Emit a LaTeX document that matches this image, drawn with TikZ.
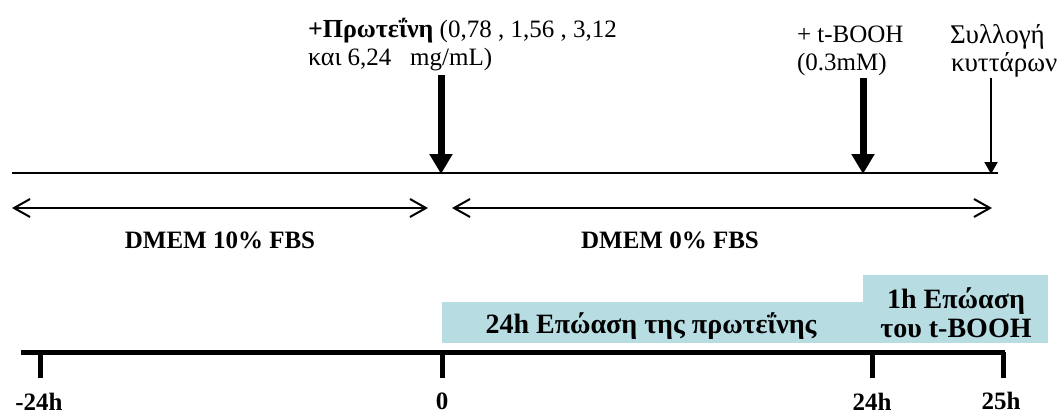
\documentclass[tikz,border=0pt]{standalone}
\usepackage{fontspec}
\setmainfont{Liberation Serif}
\usetikzlibrary{arrows.meta}
\definecolor{boxblue}{RGB}{183,221,227}
\begin{document}
\begin{tikzpicture}[x=1pt,y=-1pt,
  font=\fontsize{25}{28}\selectfont, inner sep=0pt, outer sep=0pt,
  lbl/.style={anchor=base west, align=left},
  grk/.style={anchor=base west, font=\fontsize{27}{28}\selectfont},
  blbl/.style={anchor=base, font=\fontsize{25}{28}\selectfont\bfseries},
  boxtxt/.style={anchor=base, font=\fontsize{28}{29}\selectfont\bfseries},
  bigarrow/.style={line width=7pt, -{Triangle[width=22pt,length=20pt]}},
  thinarrow/.style={line width=2pt, -{Triangle[width=13pt,length=12pt]}},
  dblarrow/.style={line width=2pt, {Straight Barb[length=16pt,width=18pt,line width=2pt]}-{Straight Barb[length=16pt,width=18pt,line width=2pt]}},
  incub/.style={fill=boxblue, draw=none, anchor=north west},
  tick/.style={line width=5pt}
]
\useasboundingbox (0,0) rectangle (1062,416);

% top labels
\node[lbl] (prot1) at (308,37) {{\fontsize{26}{28}\selectfont\bfseries +Πρωτεΐνη} (0,78 , 1,56 , 3,12};
\node[lbl] (prot2) at (308,65) {{\fontsize{26}{28}\selectfont και} 6,24 \ \ mg/mL)};
\node[lbl] (boo1) at (797,42) {+ t-BOOH};
\node[lbl] (boo2) at (797,70) {(0.3mM)};
\node[grk] (col1) at (950,43) {Συλλογή};
\node[grk] (col2) at (951,71) {κυττάρων};

% top timeline
\coordinate (tlA) at (12,173);
\coordinate (tlB) at (998,173);
\draw[line width=2pt] (tlA) -- (tlB);

\coordinate (a0s) at (441,75);
\coordinate (a0e) at (441,174);
\coordinate (a24s) at (863,78);
\coordinate (a24e) at (863,174);
\coordinate (a25s) at (991,78);
\coordinate (a25e) at (991,174);
\draw[bigarrow] (a0s) -- (a0e);
\draw[bigarrow] (a24s) -- (a24e);
\draw[thinarrow] (a25s) -- (a25e);

% medium periods
\coordinate (d1a) at (12,208);
\coordinate (d1b) at (428,208);
\coordinate (d2a) at (452,208);
\coordinate (d2b) at (992,208);
\draw[dblarrow] (d1a) -- (d1b);
\draw[dblarrow] (d2a) -- (d2b);
\node[blbl] (dm10) at (220,248) {DMEM 10\% FBS};
\node[blbl] (dm0) at (670,248) {DMEM 0\% FBS};

% incubation boxes
\node[incub, minimum width=421pt, minimum height=41pt] (inc1) at (442,302) {};
\node[incub, minimum width=185pt, minimum height=68pt] (inc2) at (863,275) {};
\node[boxtxt] (inc1t) at (651,333) {24h Επώαση της πρωτεΐνης};
\node[boxtxt] (inc2a) at (956,308) {1h Επώαση};
\node[boxtxt] (inc2b) at (956,337) {του t-BOOH};

% bottom timeline
\coordinate (bl) at (21,352);
\coordinate (br) at (1005,352);
\draw[line width=5pt] (bl) -- (br);
\foreach \n/\x in {m24/40, z/442, p24/872, p25/1003}{
  \coordinate (\n top) at (\x,352);
  \coordinate (\n bot) at (\x,378);
  \draw[tick] (\n top) -- (\n bot);
}
\node[blbl] (lm24) at (39,410) {-24h};
\node[blbl] (lz) at (442,409) {0};
\node[blbl] (lp24) at (872,410) {24h};
\node[blbl] (lp25) at (1001,409) {25h};
\end{tikzpicture}
\end{document}
